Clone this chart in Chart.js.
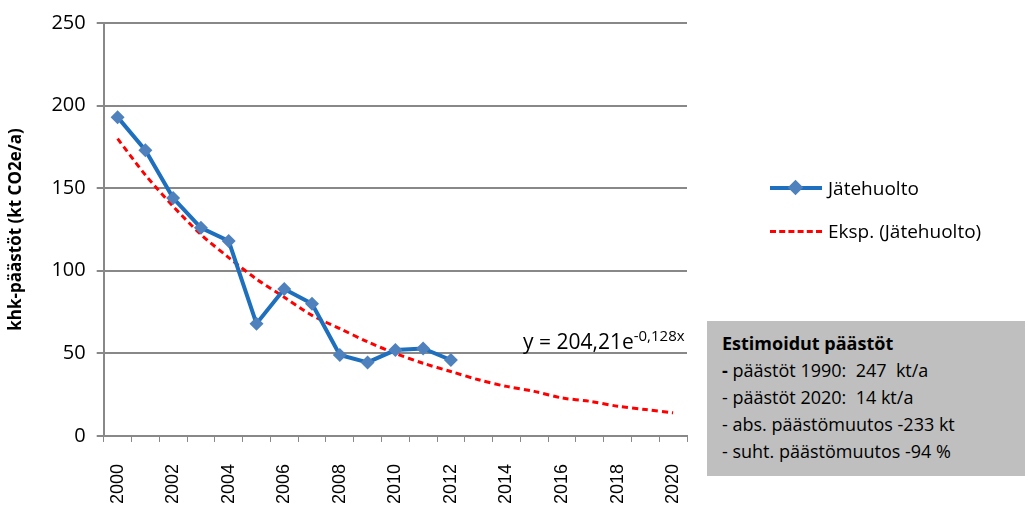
<!DOCTYPE html>
<html>
<head>
<meta charset="utf-8">
<script src="https://cdn.jsdelivr.net/npm/chart.js@4"></script>
<style>
  body { margin: 0; background: #fff; }
  #wrap { position: relative; width: 1028px; height: 506px; font-family: 'Open Sans', sans-serif; }
  #chart { position: absolute; left: 0; top: 0; }
  .leg { position: absolute; left: 770px; font-size: 19px; color: #000; display: flex; align-items: center; }
  .leg .sample { position: relative; width: 52px; height: 20px; margin-right: 6px; }
  .leg .line { position: absolute; left: 0; right: 0; top: 8px; height: 4px; background: #1F6FBF; }
  .leg .dia { position: absolute; left: 20px; top: 4px; width: 11px; height: 11px; background: #4F81BD; transform: rotate(45deg); }
  .leg .dash { position: absolute; left: 0; right: 0; top: 9px; border-top: 3px dashed #FF0000; }
  #eq { position: absolute; left: 523px; top: 325px; font-size: 21px; color: #000; }
  #eq sup { font-size: 15px; }
  #box { position: absolute; left: 707px; top: 321px; width: 318px; height: 155px; background: #BFBFBF; box-sizing: border-box; padding: 9px 0 0 15px; font-size: 18px; line-height: 27px; color: #000; }
  #box b { font-weight: bold; }
</style>
</head>
<body>
<div id="wrap">
  <canvas id="chart" width="1028" height="506"></canvas>
  <div class="leg" style="top:175px"><div class="sample"><div class="line"></div><div class="dia"></div></div>Jätehuolto</div>
  <div class="leg" style="top:218px"><div class="sample"><div class="dash"></div></div>Eksp. (Jätehuolto)</div>
  <div id="eq">y = 204,21e<sup>-0,128x</sup></div>
  <div id="box">
    <b>Estimoidut päästöt</b><br>
    <b>-</b> päästöt 1990:&nbsp; 247&nbsp; kt/a<br>
    - päästöt 2020:&nbsp; 14 kt/a<br>
    - abs. päästömuutos -233 kt<br>
    - suht. päästömuutos -94 %
  </div>
</div>
<script>
const years = ['2000', '2001', '2002', '2003', '2004', '2005', '2006', '2007', '2008', '2009', '2010',
  '2011', '2012', '2013', '2014', '2015', '2016', '2017', '2018', '2019', '2020'];
const emissions = [193, 173, 144, 126, 118, 68, 89, 80, 49, 44.5, 52, 53, 46];
const trend = [180, 158, 139, 122, 108, 95, 84, 73, 65, 57, 50, 44, 39, 34, 30, 27, 23, 21, 18, 16, 14];
const yTicks = [0, 50, 100, 150, 200, 250];

const ctx = document.getElementById('chart').getContext('2d');

const chart = new Chart(ctx, {
  type: 'line',
  data: {
    labels: years,
    datasets: [
      {
        label: 'Jätehuolto',
        data: emissions,
        borderColor: '#1F6FBF',
        borderWidth: 4,
        backgroundColor: '#4F81BD',
        pointStyle: 'rectRot',
        pointRadius: 7,
        pointBorderWidth: 0,
        tension: 0
      },
      {
        label: 'Eksp. (Jätehuolto)',
        data: trend,
        borderColor: '#FF0000',
        borderWidth: 3,
        borderDash: [6, 4],
        pointRadius: 0,
        tension: 0.3
      }
    ]
  },
  options: {
    responsive: false,
    animation: false,
    layout: { padding: { left: 6, right: 341, top: 9, bottom: 3 } },
    plugins: {
      legend: { display: false },
      tooltip: { enabled: false }
    },
    scales: {
      x: {
        offset: true,
        afterFit: axis => { axis.height -= 23; },
        grid: {
          offset: true,
          drawOnChartArea: false,
          drawTicks: true,
          tickLength: 6,
          color: '#888888'
        },
        border: { color: '#888888', width: 2 },
        ticks: {
          autoSkip: false,
          minRotation: 90,
          maxRotation: 90,
          color: '#000',
          padding: 22,
          font: { family: 'Liberation Sans', size: 18 },
          callback: (v, i) => (i % 2 === 0 ? years[i] : '')
        }
      },
      y: {
        min: 0,
        max: 250,
        afterBuildTicks: axis => { axis.ticks = yTicks.map(v => ({ value: v })); },
        grid: { color: '#888888', lineWidth: 2, tickLength: 7 },
        border: { color: '#888888', width: 2 },
        title: {
          display: true,
          text: 'khk-päästöt (kt CO2e/a)',
          color: '#000',
          font: { family: 'Open Sans', size: 17, weight: 'bold' },
          padding: { top: 0, bottom: 14 }
        },
        ticks: {
          color: '#000',
          padding: 11,
          font: { family: 'Open Sans', size: 20 }
        }
      }
    }
  }
});
</script>
</body>
</html>
